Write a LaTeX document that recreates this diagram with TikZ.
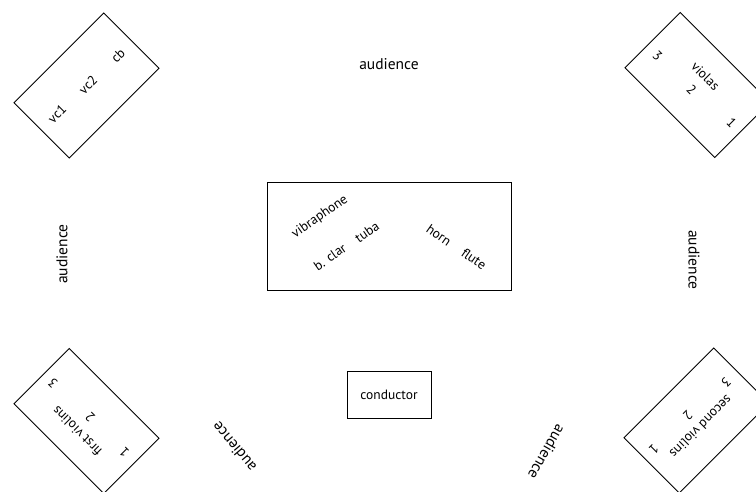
\documentclass[tikz,border=0pt]{standalone}
\usepackage{fontspec}
\setmainfont{PT Sans}
\usetikzlibrary{positioning}
\tikzset{
  ensemble/.style={draw, line width=0.9pt, minimum width=127pt, minimum height=78pt, inner sep=0pt},
  part/.style={font=\fontsize{13.5}{15}\selectfont, inner sep=0pt},
  crowd/.style={font=\fontsize{15.5}{18}\selectfont, inner sep=0pt}
}
\begin{document}
\begin{tikzpicture}[x=1pt,y=-1pt]
    \useasboundingbox (0,0) rectangle (756,492);
    \clip (0,0) rectangle (756,492);
    % string sections
    \node[ensemble,rotate=45] (cellos) at (86.5,85.5) {};
    \node[ensemble,rotate=-45] (violas) at (697.5,85) {};
    \node[ensemble,rotate=-45] (firstvn) at (86.5,421) {};
    \node[ensemble,rotate=45] (secondvn) at (696.5,420.5) {};
    \node[part,rotate=45] (vcone) at (57,114) {vc1};
    \node[part,rotate=45] (vctwo) at (88,85) {vc2};
    \node[part,rotate=45] (cb) at (118,55.5) {cb};
    \node[part,rotate=-45] (vathree) at (657.5,56) {3};
    \node[part,rotate=-45] (vaname) at (705.5,76) {violas};
    \node[part,rotate=-45] (vatwo) at (691.5,90) {2};
    \node[part,rotate=-45] (vaone) at (731.5,123) {1};
    \node[part,rotate=135] (vnathree) at (53,383) {3};
    \node[part,rotate=135] (vnaname) at (77,431) {first violins};
    \node[part,rotate=135] (vnatwo) at (90,417) {2};
    \node[part,rotate=135] (vnaone) at (124,452) {1};
    \node[part,rotate=-135] (vnbthree) at (726,382) {3};
    \node[part,rotate=-135] (vnbname) at (701,427) {second violins};
    \node[part,rotate=-135] (vnbtwo) at (688,415) {2};
    \node[part,rotate=-135] (vnbone) at (654,449) {1};
    % winds and percussion
    \node[draw,line width=0.9pt,minimum width=244pt,minimum height=108pt] (winds) at (389,236) {};
    \node[part,rotate=35] (vib) at (320,217) {vibraphone};
    \node[part,rotate=35] (bcl) at (330,257) {b. clar};
    \node[part,rotate=35] (tuba) at (367,232) {tuba};
    \node[part,rotate=-35] (horn) at (439,235) {horn};
    \node[part,rotate=-35] (flute) at (474,259) {flute};
    % conductor
    \node[draw,line width=0.9pt,part,minimum width=84pt,minimum height=47pt] (conductor) at (389,394.5) {conductor};
    % audience
    \node[crowd] (audtop) at (389,64) {audience};
    \node[crowd,rotate=90] (audleft) at (62,254) {audience};
    \node[crowd,rotate=-90] (audright) at (694,260) {audience};
    \node[crowd,rotate=130] (audbl) at (234,447) {audience};
    \node[crowd,rotate=-120] (audbr) at (547,452) {audience};
\end{tikzpicture}
\end{document}
